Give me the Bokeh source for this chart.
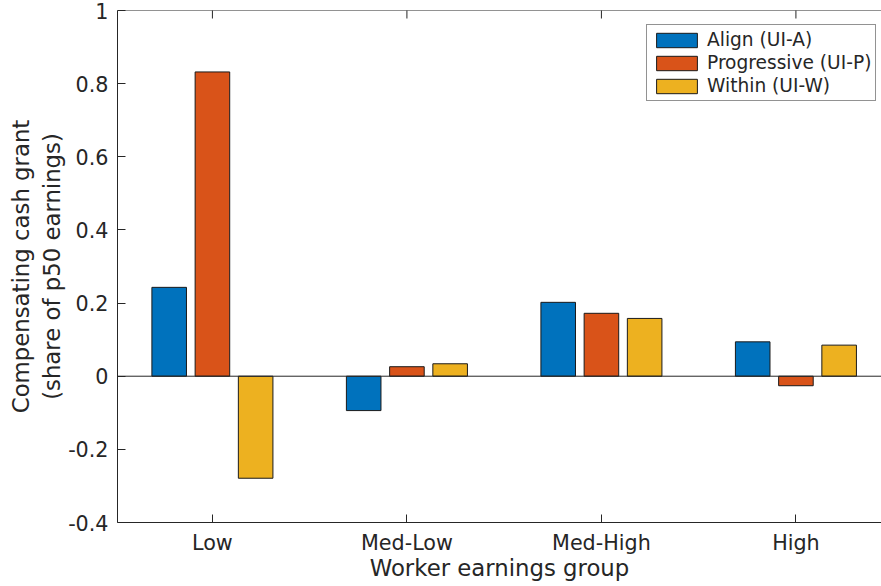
import math
from bokeh.plotting import figure
from bokeh.models import (Range1d, FixedTicker, Span, Legend, LegendItem,
                          ColumnDataSource, PrintfTickFormatter)
from bokeh.transform import dodge
from bokeh.embed import file_html
from bokeh.resources import INLINE

# ---- data ----
groups = ["Low", "Med-Low", "Med-High", "High"]
group_pos = [1, 2, 3, 4]
align = [0.243, -0.094, 0.202, 0.094]
progressive = [0.832, 0.026, 0.172, -0.026]
within = [-0.279, 0.034, 0.158, 0.085]
series_names = ["Align (UI-A)", "Progressive (UI-P)", "Within (UI-W)"]
series_cols = ["align", "progressive", "within"]
colors = ["#0072BD", "#D95319", "#EDB120"]
y_ticks = [-0.4, -0.2, 0, 0.2, 0.4, 0.6, 0.8, 1]
x_label = "Worker earnings group"
y_label = "Compensating cash grant\n(share of p50 earnings)"

FONT = "DejaVu Sans"
AX = "#262626"

source = ColumnDataSource(dict(x=group_pos, align=align, progressive=progressive, within=within))

p = figure(width=881, height=583, output_backend="svg", toolbar_location=None,
           x_range=Range1d(0.512, 4.440), y_range=Range1d(y_ticks[0], y_ticks[-1]),
           min_border_left=117, min_border_top=10, min_border_right=0, min_border_bottom=0)
p.outline_line_color = None
p.grid.visible = False
p.background_fill_color = "white"
p.border_fill_color = "white"

offsets = [-2/9, 0, 2/9]
bar_w = 0.8 * 2/9
items = []
for col, name, c, off in zip(series_cols, series_names, colors, offsets):
    r = p.vbar(x=dodge("x", off, range=p.x_range), top=col, bottom=0, width=bar_w,
               source=source, fill_color=c, line_color="#1a1a1a", line_width=1)
    items.append(LegendItem(label=name, renderers=[r]))

# baseline and top box line
p.add_layout(Span(location=0, dimension="width", line_color=AX, line_width=1))
p.add_layout(Span(location=y_ticks[-1], dimension="width", line_color=AX, line_width=1))
# top inward ticks (box on)
p.scatter(x=group_pos, y=[y_ticks[-1]] * len(group_pos), marker="dash", angle=math.pi / 2,
          size=16, line_color=AX, line_width=1)

def style_axis(ax):
    ax.axis_line_color = AX
    ax.axis_line_width = 1
    ax.major_tick_line_color = AX
    ax.major_tick_in = 8
    ax.major_tick_out = 0
    ax.minor_tick_line_color = None
    ax.major_label_text_font = FONT
    ax.major_label_text_font_size = "20.7px"
    ax.major_label_text_color = AX
    ax.axis_label_text_font = FONT
    ax.axis_label_text_font_size = "22.8px"
    ax.axis_label_text_font_style = "normal"
    ax.axis_label_text_color = AX

xa = p.xaxis[0]
style_axis(xa)
xa.ticker = FixedTicker(ticks=group_pos)
xa.major_label_overrides = {i: g for i, g in zip(group_pos, groups)}
xa.axis_label = x_label
xa.major_label_standoff = 8
xa.axis_label_standoff = -3

ya = p.yaxis[0]
style_axis(ya)
ya.ticker = FixedTicker(ticks=y_ticks)
ya.formatter = PrintfTickFormatter(format="%g")
ya.axis_label = y_label
ya.major_label_standoff = 9
ya.axis_label_standoff = 0

legend = Legend(items=items, location=(529, 421))
legend.border_line_color = AX
legend.border_line_width = 1
legend.background_fill_color = "white"
legend.background_fill_alpha = 1
legend.label_text_font = FONT
legend.label_text_font_size = "18.6px"
legend.label_text_color = AX
legend.glyph_width = 51
legend.glyph_height = 18
legend.label_height = 18
legend.label_standoff = 5
legend.padding = 4
legend.spacing = 2
legend.margin = 0
p.add_layout(legend, "center")

open("out.html", "w").write(file_html(p, INLINE))
